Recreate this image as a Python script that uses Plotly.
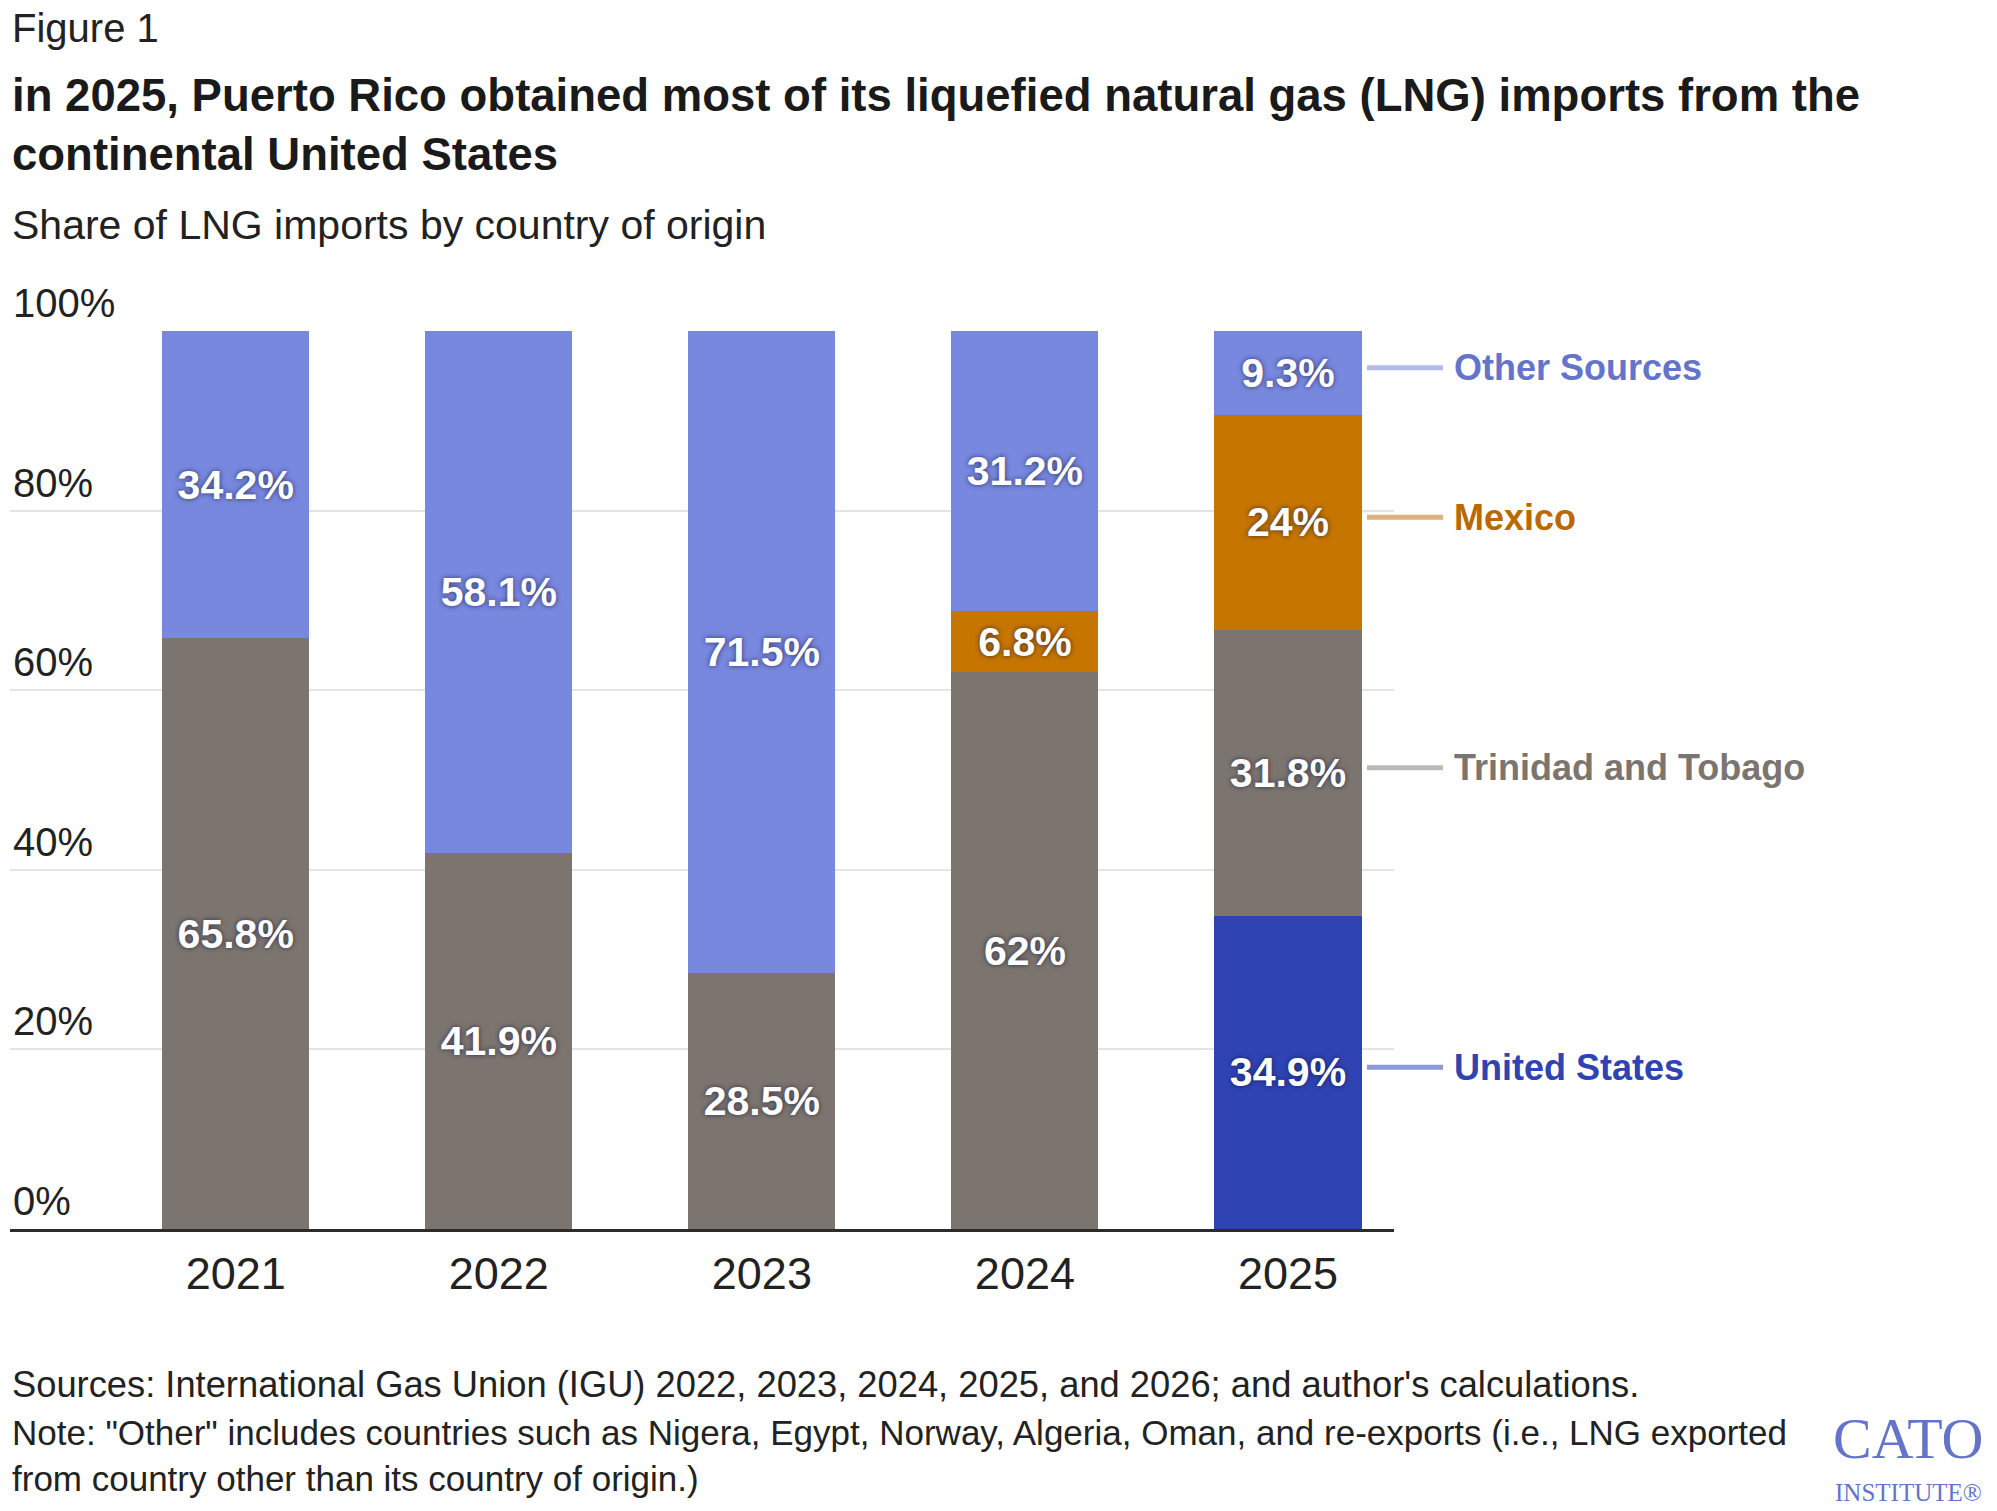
import plotly.graph_objects as go

# ---------------- data ----------------
years = ["2021", "2022", "2023", "2024", "2025"]
united_states = [0, 0, 0, 0, 34.9]
trinidad_tobago = [65.8, 41.9, 28.5, 62, 31.8]
mexico = [0, 0, 0, 6.8, 24]
other_sources = [34.2, 58.1, 71.5, 31.2, 9.3]
series_names = ["United States", "Trinidad and Tobago", "Mexico", "Other Sources"]
y_tick_vals = [0, 20, 40, 60, 80, 100]
y_tick_text = ["0%", "20%", "40%", "60%", "80%", "100%"]

title_text = ("in 2025, Puerto Rico obtained most of its liquefied natural gas (LNG) imports from the"
              "<br>continental United States")
subtitle_text = "Share of LNG imports by country of origin"
figure_label = "Figure 1"
sources_text = "Sources: International Gas Union (IGU) 2022, 2023, 2024, 2025, and 2026; and author's calculations."
note_text = ('Note: "Other" includes countries such as Nigera, Egypt, Norway, Algeria, Oman, and re-exports (i.e., LNG exported'
             '<br>from country other than its country of origin.)')

# ---------------- styles ----------------
W, H = 1997, 1511
ML, MR, MT, MB = 10, 603, 331, 282
PW, PH = W - ML - MR, H - MT - MB
FONT = "Liberation Sans, Arial, Helvetica, sans-serif"
SERIF = "Liberation Serif, Times New Roman, serif"

bar_colors = ["#2F43B3", "#7C756F", "#C67500", "#7888DF"]
label_colors = ["#2F43B3", "#7C756F", "#B86A00", "#6474CB"]
line_colors = ["#8E99DA", "#BDB9B5", "#DDB27C", "#B3BBEB"]


def px_x(px):
    return (px - ML) / PW


def px_y(py):
    return (H - MB - py) / PH


series_values = [united_states, trinidad_tobago, mexico, other_sources]

fig = go.Figure()
for name, vals, col in zip(series_names, series_values, bar_colors):
    fig.add_trace(go.Bar(
        x=years, y=vals, name=name, marker=dict(color=col, line=dict(width=0)),
        text=[f"{v:g}%" if v > 0 else "" for v in vals],
        textposition="inside", insidetextanchor="middle", constraintext="none",
        textangle=0,
        textfont=dict(family=FONT, size=41, color="white", weight="bold",
                      shadow="0px 0px 5px rgba(20,20,60,0.75)"),
        showlegend=False, hoverinfo="skip",
    ))

# right-hand labels for the 2025 bar
annotations = []
shapes = []
base = 0
for name, vals, lc, ln in zip(series_names, series_values, label_colors, line_colors):
    v = vals[-1]
    mid = base + v / 2
    base += v
    shapes.append(dict(type="line", xref="paper", yref="y",
                       ysizemode="pixel", yanchor=mid, y0=5, y1=5,
                       x0=px_x(1367), x1=px_x(1443),
                       line=dict(color=ln, width=5), layer="above"))
    annotations.append(dict(xref="paper", yref="y", x=px_x(1452), y=mid, yshift=5,
                            xanchor="left", yanchor="middle", showarrow=False,
                            text=f"<b>{name}</b>",
                            font=dict(family=FONT, size=36, color=lc)))

# header texts
annotations.append(dict(xref="paper", yref="paper", x=px_x(10), y=px_y(28),
                        xanchor="left", yanchor="middle", showarrow=False,
                        text=figure_label, font=dict(family=FONT, size=40, color="#222222")))
annotations.append(dict(xref="paper", yref="paper", x=px_x(10), y=px_y(125),
                        xanchor="left", yanchor="middle", showarrow=False, align="left",
                        text=f"<b>{title_text}</b>",
                        font=dict(family=FONT, size=45.5, color="#1a1a1a")))
annotations.append(dict(xref="paper", yref="paper", x=px_x(10), y=px_y(225),
                        xanchor="left", yanchor="middle", showarrow=False,
                        text=subtitle_text, font=dict(family=FONT, size=41, color="#222222")))
# footer texts
annotations.append(dict(xref="paper", yref="paper", x=px_x(10), y=px_y(1384),
                        xanchor="left", yanchor="middle", showarrow=False,
                        text=sources_text, font=dict(family=FONT, size=36.3, color="#222222")))
annotations.append(dict(xref="paper", yref="paper", x=px_x(10), y=px_y(1455),
                        xanchor="left", yanchor="middle", showarrow=False, align="left",
                        text=note_text, font=dict(family=FONT, size=35, color="#222222")))
# logo
annotations.append(dict(xref="paper", yref="paper", x=px_x(1908), y=px_y(1438),
                        xanchor="center", yanchor="middle", showarrow=False,
                        text="CATO", font=dict(family=SERIF, size=58, color="#6474CB")))
annotations.append(dict(xref="paper", yref="paper", x=px_x(1908), y=px_y(1492),
                        xanchor="center", yanchor="middle", showarrow=False,
                        text="INSTITUTE®", font=dict(family=SERIF, size=25, color="#6474CB")))

fig.update_layout(
    width=W, height=H,
    margin=dict(l=ML, r=MR, t=MT, b=MB, autoexpand=False),
    paper_bgcolor="white", plot_bgcolor="white",
    barmode="stack", bargap=0.441,
    font=dict(family=FONT, color="#222222"),
    annotations=annotations, shapes=shapes,
    xaxis=dict(type="category", range=[-0.858, 4.403], showgrid=False,
               showline=True, linecolor="#2b2b2b", linewidth=3,
               ticks="outside", ticklen=3, tickcolor="rgba(0,0,0,0)",
               tickfont=dict(family=FONT, size=45, color="#222222"), fixedrange=True),
    yaxis=dict(range=[0, 100], tickvals=y_tick_vals, ticktext=y_tick_text,
               showgrid=True, gridcolor="#e4e4e4", gridwidth=2, zeroline=False,
               showline=False, ticks="", ticklabelposition="inside top",
               ticklabeloverflow="allow",
               tickfont=dict(family=FONT, size=40, color="#222222"), fixedrange=True),
)

fig.write_html("out.html")
